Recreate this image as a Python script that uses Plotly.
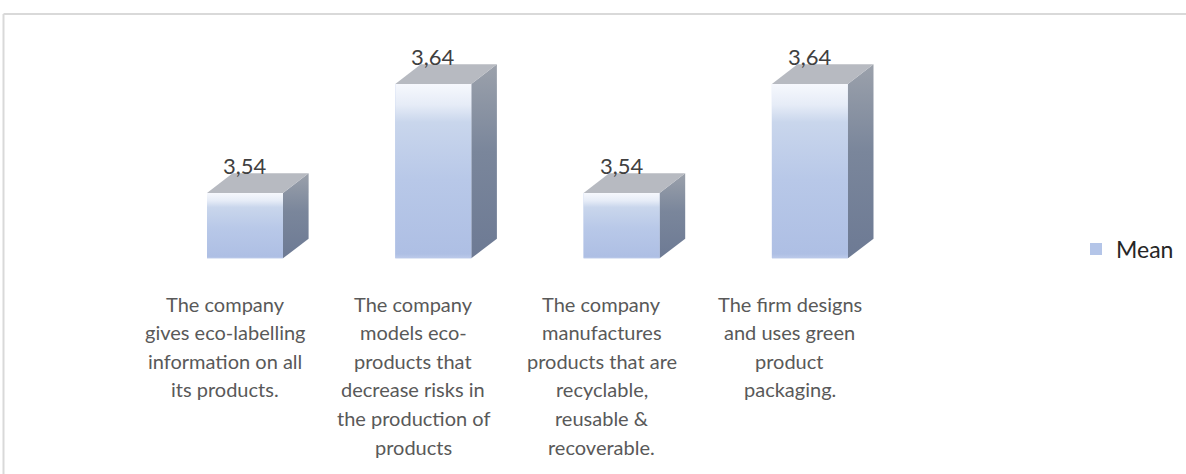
import plotly.graph_objects as go

# Chart data
categories = [
    ["The company", "gives eco-labelling", "information on all", "its products."],
    ["The company", "models eco-", "products that", "decrease risks in",
     "the production of", "products"],
    ["The company", "manufactures", "products that are", "recyclable,",
     "reusable &", "recoverable."],
    ["The firm designs", "and uses green", "product", "packaging."],
]
mean_values = [3.54, 3.64, 3.54, 3.64]
series_name = "Mean"
axis_floor = 3.48

FONT = "Lato, sans-serif"

# 3D box geometry in axis units
H = 474
UNIT_X = 188.3          # px per category
UNIT_Y = 1090.0         # px per value unit
half_w = 38 / UNIT_X
depth_x = 25.6 / UNIT_X
depth_y = 19.6 / UNIT_Y

x_min = -245 / UNIT_X
x_max = x_min + 1186 / UNIT_X
y_max = axis_floor + 258.3 / UNIT_Y
y_min = y_max - H / UNIT_Y

LABEL_TOP = 303.5    # px, centre of first label line
LABEL_STEP = 28.6    # px, line pitch of the category labels

front_scale = [
    [0.0, "#bccaea"], [0.025, "#aebfe4"], [0.45, "#b8c8e8"],
    [0.78, "#c9d6ec"], [0.88, "#e6ecf7"], [1.0, "#f6f8fd"],
]
side_scale = [[0.0, "#6d7a94"], [0.55, "#7a869b"], [1.0, "#9ba1ab"]]

fig = go.Figure()

# legend swatch / base bar under the gradient faces
fig.add_trace(go.Bar(
    x=list(range(len(mean_values))),
    y=[v - axis_floor for v in mean_values],
    base=[axis_floor] * len(mean_values),
    width=2 * half_w,
    marker=dict(color="#b4c5e8", line=dict(width=0)),
    name=series_name, showlegend=True, hoverinfo="skip",
))

for i, v in enumerate(mean_values):
    # right side face
    fig.add_trace(go.Scatter(
        x=[i + half_w, i + half_w + depth_x, i + half_w + depth_x, i + half_w, i + half_w],
        y=[axis_floor, axis_floor + depth_y, v + depth_y, v, axis_floor],
        mode="lines", line=dict(width=0), fill="toself",
        fillgradient=dict(type="vertical", colorscale=side_scale),
        showlegend=False, hoverinfo="skip",
    ))
    # top face
    fig.add_trace(go.Scatter(
        x=[i - half_w, i + half_w, i + half_w + depth_x, i - half_w + depth_x, i - half_w],
        y=[v, v, v + depth_y, v + depth_y, v],
        mode="lines", line=dict(width=0), fill="toself",
        fillcolor="#b7bac1",
        showlegend=False, hoverinfo="skip",
    ))
    # front face
    fig.add_trace(go.Scatter(
        x=[i - half_w, i + half_w, i + half_w, i - half_w, i - half_w],
        y=[axis_floor, axis_floor, v, v, axis_floor],
        mode="lines", line=dict(width=0), fill="toself",
        fillgradient=dict(type="vertical", colorscale=front_scale),
        showlegend=False, hoverinfo="skip",
    ))
    # value label
    fig.add_annotation(
        x=i, y=v + depth_y, xref="x", yref="y",
        text=f"{v:.2f}".replace(".", ","), showarrow=False,
        yanchor="middle", yshift=8,
        font=dict(family=FONT, size=22, color="#404040"),
    )
    # category label, one line at a time for a fixed line pitch
    for k, line in enumerate(categories[i]):
        fig.add_annotation(
            x=i - 20 / UNIT_X, y=1 - (LABEL_TOP + k * LABEL_STEP) / H,
            xref="x", yref="paper",
            text=line, showarrow=False,
            xanchor="center", yanchor="middle",
            font=dict(family=FONT, size=20, color="#595959"),
        )

# outer chart frame (top and left edges)
fig.add_shape(type="line", xref="paper", yref="paper",
              x0=3.5 / 1186, x1=1, y0=1 - 14 / H, y1=1 - 14 / H,
              line=dict(color="#d9d9d9", width=2))
fig.add_shape(type="line", xref="paper", yref="paper",
              x0=3.5 / 1186, x1=3.5 / 1186, y0=0, y1=1 - 14 / H,
              line=dict(color="#d9d9d9", width=2))

fig.update_layout(
    width=1186, height=474,
    margin=dict(l=0, r=0, t=0, b=0),
    paper_bgcolor="white", plot_bgcolor="white",
    barmode="overlay",
    xaxis=dict(range=[x_min, x_max], visible=False, fixedrange=True),
    yaxis=dict(range=[y_min, y_max], visible=False, fixedrange=True),
    showlegend=True,
    legend=dict(x=1076 / 1186, y=1 - 249 / H, xanchor="left", yanchor="middle",
                bgcolor="rgba(0,0,0,0)",
                font=dict(family=FONT, size=23, color="#262626")),
)

fig.write_html("out.html")
